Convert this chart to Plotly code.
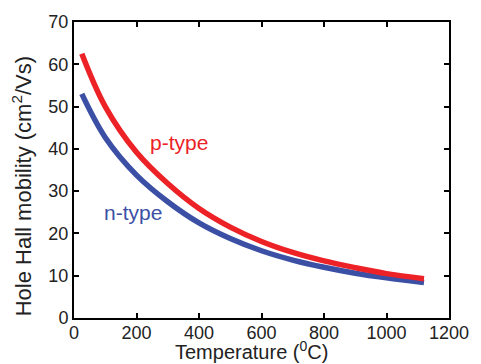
import plotly.graph_objects as go

temperature = [25, 100, 200, 300, 400, 500, 600, 700, 800, 900, 1000, 1120]
p_type = [62.5, 50.0, 39.2, 31.8, 25.9, 21.5, 18.1, 15.5, 13.5, 11.9, 10.5, 9.3]
n_type = [53.0, 42.7, 33.8, 27.5, 22.5, 18.8, 15.9, 13.7, 12.0, 10.6, 9.5, 8.4]

red = "#ec2227"
blue = "#3b50a5"
font = "Liberation Sans, Arial, sans-serif"

fig = go.Figure()
fig.add_trace(go.Scatter(x=temperature, y=n_type, mode="lines",
                         line=dict(color=blue, width=5.5, shape="spline"), showlegend=False))
fig.add_trace(go.Scatter(x=temperature, y=p_type, mode="lines",
                         line=dict(color=red, width=5.5, shape="spline"), showlegend=False))

fig.add_annotation(x=337, y=41.5, text="p-type", showarrow=False,
                   font=dict(color=red, size=21, family=font))
fig.add_annotation(x=188, y=25.0, text="n-type", showarrow=False,
                   font=dict(color=blue, size=21, family=font))

# axis titles
fig.add_annotation(xref="paper", yref="paper", x=0.4726, y=0, yshift=-46,
                   xanchor="center", yanchor="bottom", showarrow=False, borderpad=0,
                   text="Temperature (<sup>0</sup>C)",
                   font=dict(size=20, color="#222", family=font))
fig.add_annotation(xref="paper", yref="paper", x=0, xshift=-52, y=0.445,
                   xanchor="center", yanchor="middle", showarrow=False, textangle=-90,
                   text="Hole Hall mobility (cm<sup>2</sup>/Vs)",
                   font=dict(size=22, color="#222", family=font))

axis_common = dict(showgrid=False, zeroline=False, showline=True, linecolor="black",
                   linewidth=2, mirror="ticks", ticks="inside", ticklen=5,
                   tickwidth=1.5, tickcolor="black",
                   tickfont=dict(size=18, color="#222", family=font))

fig.update_xaxes(range=[0, 1200], dtick=200, ticklabelstandoff=-3, **axis_common)
fig.update_yaxes(range=[0, 70], dtick=10, **axis_common)

fig.update_layout(width=481, height=364, margin=dict(l=74, r=24, t=19, b=46),
                  plot_bgcolor="white", paper_bgcolor="white")

fig.write_html("out.html")
